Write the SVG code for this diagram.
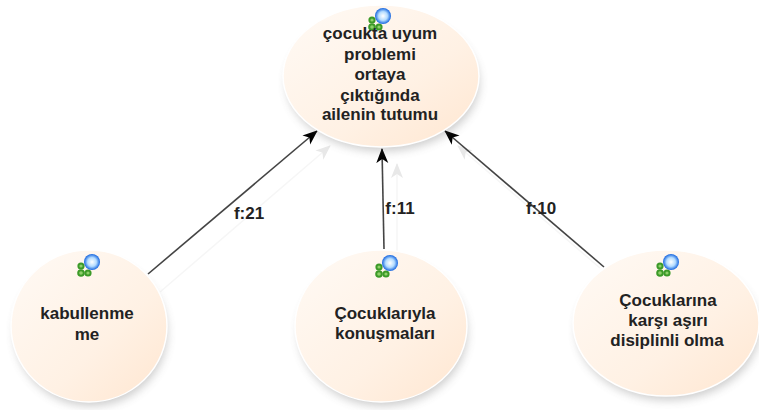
<svg xmlns="http://www.w3.org/2000/svg" width="759" height="410" viewBox="0 0 759 410">
<defs>
<linearGradient id="fill" x1="0" y1="0" x2="1" y2="1"><stop offset="0" stop-color="#fffaf5"/><stop offset="0.6" stop-color="#fff1e4"/><stop offset="1" stop-color="#ffe6d0"/></linearGradient>
<filter id="sh" x="-20%" y="-20%" width="140%" height="140%"><feGaussianBlur stdDeviation="5"/></filter>
<radialGradient id="ball" cx="0.5" cy="0.5" r="0.5"><stop offset="0" stop-color="#ffffff"/><stop offset="0.55" stop-color="#b4dcff"/><stop offset="1" stop-color="#1565e0"/></radialGradient>
<marker id="ah" markerWidth="16" markerHeight="14" refX="14" refY="7" orient="auto" markerUnits="userSpaceOnUse"><path d="M0,1 L15,7 L0,13 L4,7 Z" fill="#000"/></marker>
<marker id="ag" markerWidth="16" markerHeight="14" refX="14" refY="7" orient="auto" markerUnits="userSpaceOnUse"><path d="M0,1 L15,7 L0,13 L4,7 Z" fill="#e8e8e8"/></marker>
<g id="icon"><g fill="#8fd06a" stroke="#3c9a28" stroke-width="2"><circle cx="-7" cy="3" r="2.6"/><circle cx="-7" cy="10" r="2.8"/><circle cx="0" cy="10" r="2.6"/></g><circle cx="4" cy="-1" r="8" fill="url(#ball)"/></g>
</defs>
<style>
.n{fill:url(#fill);stroke:#fff;stroke-width:1.5}
.s{fill:#555;opacity:.3;filter:url(#sh)}
text{font-family:"Liberation Sans",Arial,sans-serif;font-size:17px;font-weight:bold;fill:#222;text-anchor:middle}
.c{stroke:#444;stroke-width:1.6;fill:none;marker-end:url(#ah)}
.g{stroke:#f6f6f6;stroke-width:1.5;fill:none;marker-end:url(#ag)}
</style>
<g id="connectors">
<line class="g" x1="160" y1="292" x2="330" y2="146"/>
<line class="g" x1="397" y1="252" x2="397" y2="164"/>
<line class="g" x1="600" y1="268" x2="458" y2="146"/>
<line class="c" x1="148" y1="274" x2="317" y2="131"/>
<line class="c" x1="384" y1="249" x2="382" y2="149"/>
<line class="c" x1="604" y1="267" x2="445" y2="131"/>
<text x="249" y="219">f:21</text>
<text x="400" y="214">f:11</text>
<text x="541" y="214">f:10</text>
</g>
<g id="node-top">
<ellipse class="s" cx="383" cy="83" rx="96" ry="68"/>
<ellipse class="n" cx="381" cy="76" rx="98" ry="71"/>
<use href="#icon" x="379" y="17"/>
<text x="380" y="39">çocukta uyum</text>
<text x="380" y="60">problemi</text>
<text x="380" y="80">ortaya</text>
<text x="380" y="101">çıktığında</text>
<text x="380" y="120">ailenin tutumu</text>
</g>
<g id="node-left">
<ellipse class="s" cx="91" cy="333" rx="76" ry="73"/>
<ellipse class="n" cx="89" cy="326" rx="78" ry="76"/>
<use href="#icon" x="88" y="263"/>
<text x="87" y="319">kabullenme</text>
<text x="87" y="340">me</text>
</g>
<g id="node-middle">
<ellipse class="s" cx="383" cy="333" rx="84" ry="73"/>
<ellipse class="n" cx="381" cy="326" rx="86" ry="76"/>
<use href="#icon" x="386" y="264"/>
<text x="385" y="319">Çocuklarıyla</text>
<text x="385" y="339">konuşmaları</text>
</g>
<g id="node-right">
<ellipse class="s" cx="668" cy="330" rx="91" ry="70"/>
<ellipse class="n" cx="666" cy="323" rx="93" ry="73"/>
<use href="#icon" x="667" y="263"/>
<text x="668" y="306">Çocuklarına</text>
<text x="668" y="326">karşı aşırı</text>
<text x="667" y="346">disiplinli olma</text>
</g>
</svg>
